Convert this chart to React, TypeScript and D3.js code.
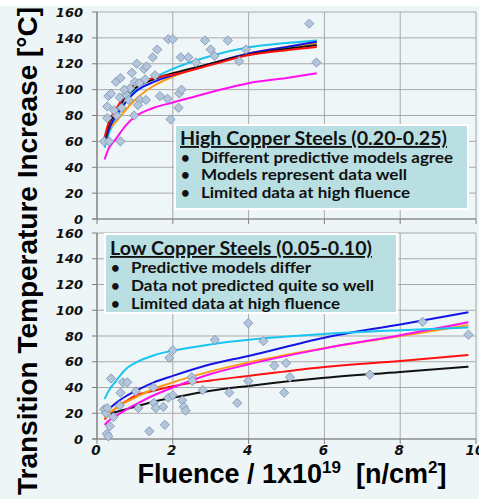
import React from "react";
import * as d3 from "d3";

const W = 479;
const H = 499;

const xTicks = [0, 2, 4, 6, 8, 10];
const yTicks = [0, 20, 40, 60, 80, 100, 120, 140, 160];

// High copper data points [fluence, dT]
const highPoints: [number, number][] = [
  [0.19, 60], [0.32, 60], [0.62, 60], [0.27, 78], [0.27, 87], [0.3, 95], [0.37, 97],
  [0.52, 80], [0.5, 106], [0.62, 109], [0.6, 94], [0.65, 86], [0.77, 96], [0.84, 92],
  [0.92, 113], [0.87, 101], [0.98, 80], [1.0, 106], [1.05, 120], [1.12, 105], [1.13, 92],
  [1.24, 116], [1.31, 118], [1.27, 108], [1.29, 92], [1.08, 88], [1.47, 125], [1.59, 131],
  [1.53, 111], [1.66, 95], [1.88, 139], [2.0, 139], [1.86, 93], [1.94, 77], [2.17, 97],
  [2.23, 100], [2.15, 86], [2.21, 125], [2.41, 125], [2.61, 121], [2.85, 138], [3.0, 131],
  [3.1, 126], [3.45, 138], [3.75, 122], [3.93, 131], [5.6, 151], [5.79, 121], [0.72, 100],
  [0.45, 84],
];

const lowPoints: [number, number][] = [
  [0.19, 23], [0.24, 20], [0.27, 24], [0.26, 4], [0.3, 2], [0.34, 10], [0.37, 47],
  [0.43, 17], [0.62, 36], [0.68, 44], [0.8, 44], [0.6, 26], [1.02, 37], [1.09, 24],
  [1.38, 6], [1.49, 40], [1.5, 28], [1.55, 24], [1.75, 25], [1.79, 11], [1.88, 32],
  [1.91, 63], [2.0, 69], [2.0, 34], [2.25, 30], [2.29, 25], [2.34, 22], [2.5, 48],
  [2.52, 45], [2.79, 38], [3.11, 77], [3.49, 36], [3.7, 28], [3.99, 90], [4.39, 76],
  [4.68, 57], [4.99, 59], [5.09, 48], [4.94, 36], [3.99, 45], [7.2, 50], [8.59, 91],
  [9.8, 81],
];

// Model curves, high copper
const highX = [0.2, 0.3, 0.5, 0.75, 1, 1.5, 2, 3, 4, 5, 5.8];
const highCyan = [55, 65, 77, 90, 100, 109, 116, 126, 132.7, 136, 138];
const highBlue = [58, 68, 80, 90, 98, 106, 111, 120, 128, 133, 137];
const highBlack = [60, 72, 82, 94, 101, 108, 112.6, 120, 127, 131.5, 134.5];
const highRed = [63, 74, 85, 96, 104, 109, 111.5, 119, 126.7, 130.5, 133];
const highOrange = [60, 68, 75, 84, 92, 103, 110, 120, 128, 133, 136];
const highMagenta = [46, 54, 62, 72, 79, 86, 90, 98, 105, 109, 112.6];

// Model curves, low copper
const lowX = [0.2, 0.3, 0.5, 0.75, 1, 1.5, 2, 3, 4, 6, 8, 9.8];
const lowCyan = [31, 37, 45, 54, 59, 65, 68.6, 73.5, 77, 81.5, 84.5, 86.7];
const lowBlue = [21, 23, 28, 33, 37, 44, 49, 58, 64.5, 78.7, 89, 98.4];
const lowOrange = [16, 19.5, 24, 28.5, 32, 39, 44, 52.5, 59.5, 70.5, 80, 88.5];
const lowMagenta = [11, 14, 18, 22.5, 26.5, 34, 40, 50.5, 58, 70.4, 80.5, 90.6];
const lowRed = [15, 19, 24, 29, 33.5, 37.5, 41, 45.5, 49, 56, 60.6, 65.2];
const lowBlack = [18, 19.5, 21, 23, 25, 29, 32, 37.5, 41.2, 47.5, 52, 56.2];

const highTitle = "High Copper Steels (0.20-0.25)";
const highBullets = [
  "Different predictive models agree",
  "Models represent data well",
  "Limited data at high fluence",
];
const highWidths = [267, 252, 206, 209];
const lowTitle = "Low Copper Steels (0.05-0.10)";
const lowBullets = [
  "Predictive models differ",
  "Data not predicted quite so well",
  "Limited data at high fluence",
];
const lowWidths = [262, 180, 243, 209];

const COLORS = {
  cyan: "#18c4f0",
  blue: "#1414e6",
  black: "#111111",
  red: "#ff1010",
  orange: "#ff9a10",
  magenta: "#ff10ee",
};

const x = d3.scaleLinear().domain([0, 10]).range([97, 476]);
const yTop = d3.scaleLinear().domain([0, 160]).range([219, 12]);
const yBot = d3.scaleLinear().domain([0, 160]).range([439, 233]);

function Panel({
  y,
  points,
  curves,
  xs,
  showXLabels,
}: {
  y: d3.ScaleLinear<number, number>;
  points: [number, number][];
  curves: { vals: number[]; color: string }[];
  xs: number[];
  showXLabels: boolean;
}) {
  const [y0, y1] = y.range();
  const line = (vals: number[]) =>
    d3
      .line<number>()
      .x((_, i) => x(xs[i]))
      .y((v) => y(v))
      .curve(d3.curveMonotoneX)(vals) || "";
  const tickFont = "'DejaVu Sans', sans-serif";
  return (
    <g>
      <rect x={x(0)} y={y1} width={x(10) - x(0)} height={y0 - y1} fill="#eff6f8" />
      {yTicks.map((t) => (
        <line key={"h" + t} x1={x(0)} x2={x(10)} y1={y(t)} y2={y(t)} stroke="#a9a9a9" strokeWidth={1} />
      ))}
      {xTicks.map((t) => (
        <line key={"v" + t} x1={x(t)} x2={x(t)} y1={y1} y2={y0} stroke="#a9a9a9" strokeWidth={1} />
      ))}
      <line x1={x(0)} x2={x(0)} y1={y1} y2={y0} stroke="#7f7f7f" strokeWidth={1.2} />
      <line x1={x(0) - 5} x2={x(10)} y1={y0} y2={y0} stroke="#7f7f7f" strokeWidth={1.2} />
      {yTicks.map((t) => (
        <line key={"yt" + t} x1={x(0) - 5} x2={x(0)} y1={y(t)} y2={y(t)} stroke="#7f7f7f" />
      ))}
      {xTicks.map((t) => (
        <line key={"xt" + t} x1={x(t)} x2={x(t)} y1={y0} y2={y0 + 5} stroke="#7f7f7f" />
      ))}
      {yTicks.map((t) => (
        <text
          key={"yl" + t}
          x={83}
          y={y(t)}
          dy="0.36em"
          textAnchor="end"
          fontFamily={tickFont}
          fontWeight="bold"
          fontStyle="italic"
          fontSize={13}
          fill="#111"
        >
          {t}
        </text>
      ))}
      {showXLabels &&
        xTicks.map((t) => (
          <text
            key={"xl" + t}
            x={x(t) - 1}
            y={y0 + 16}
            textAnchor="middle"
            fontFamily={tickFont}
            fontWeight="bold"
            fontStyle="italic"
            fontSize={13.5}
            fill="#111"
          >
            {t}
          </text>
        ))}
      {curves.map((c, i) => (
        <path key={"c" + i} d={line(c.vals)} fill="none" stroke={c.color} strokeWidth={2} />
      ))}
      {points.map((p, i) => {
        const cx = x(p[0]);
        const cy = y(p[1]);
        const r = 4.6;
        return (
          <path
            key={"p" + i}
            d={`M${cx},${cy - r}L${cx + r},${cy}L${cx},${cy + r}L${cx - r},${cy}Z`}
            fill="#b3c6dc"
            stroke="#7f95b3"
            strokeWidth={0.9}
          />
        );
      })}
    </g>
  );
}

function Legend({
  x0,
  y0,
  w,
  h,
  title,
  bullets,
  widths,
  titleBase,
  lineGap,
}: {
  x0: number;
  y0: number;
  w: number;
  h: number;
  title: string;
  bullets: string[];
  widths: number[];
  titleBase: number;
  lineGap: number;
}) {
  const font = "Lato, 'Open Sans', sans-serif";
  return (
    <g>
      <rect x={x0} y={y0} width={w} height={h} fill="#b9dfe2" stroke="#ffffff" strokeWidth={2} />
      <text
        x={x0 + 5}
        y={titleBase}
        fontFamily={font}
        fontSize={18.5}
        fontWeight="bold"
        fill="#111"
        textDecoration="underline"
        textLength={widths[0]}
        lengthAdjust="spacingAndGlyphs"
      >
        {title}
      </text>
      {bullets.map((b, i) => (
        <g key={i}>
          <text x={x0 + 6} y={titleBase + (i + 1) * lineGap} fontFamily={font} fontSize={15} fontWeight="bold" fill="#111">
            •
          </text>
          <text
            x={x0 + 26}
            y={titleBase + (i + 1) * lineGap}
            fontFamily={font}
            fontSize={15.5}
            fontWeight="bold"
            fill="#111"
            textLength={widths[i + 1]}
            lengthAdjust="spacingAndGlyphs"
          >
            {b}
          </text>
        </g>
      ))}
    </g>
  );
}

export default function App() {
  const topCurves = [
    { vals: highMagenta, color: COLORS.magenta },
    { vals: highCyan, color: COLORS.cyan },
    { vals: highOrange, color: COLORS.orange },
    { vals: highBlue, color: COLORS.blue },
    { vals: highBlack, color: COLORS.black },
    { vals: highRed, color: COLORS.red },
  ];
  const botCurves = [
    { vals: lowBlack, color: COLORS.black },
    { vals: lowRed, color: COLORS.red },
    { vals: lowOrange, color: COLORS.orange },
    { vals: lowMagenta, color: COLORS.magenta },
    { vals: lowBlue, color: COLORS.blue },
    { vals: lowCyan, color: COLORS.cyan },
  ];
  return (
    <svg
      width={W}
      height={H}
      style={{ position: "absolute", left: 0, top: 0, display: "block" }}
      fontFamily="'Liberation Sans', Arial, sans-serif"
    >
      <rect x={0} y={0} width={W} height={H} fill="#edf5f7" />
      <rect x={0} y={0} width={W} height={6} fill="#ffffff" />
      <Panel y={yTop} points={highPoints} curves={topCurves} xs={highX} showXLabels={false} />
      <Panel y={yBot} points={lowPoints} curves={botCurves} xs={lowX} showXLabels={true} />
      <Legend x0={175} y0={125} w={293} h={84} title={highTitle} bullets={highBullets} widths={highWidths} titleBase={145} lineGap={17.5} />
      <Legend x0={105} y0={234} w={292} h={79} title={lowTitle} bullets={lowBullets} widths={lowWidths} titleBase={255} lineGap={18} />
      <text
        transform="translate(37,251) rotate(-90)"
        textAnchor="middle"
        fontWeight="bold"
        fontSize={27}
        textLength={488}
        lengthAdjust="spacingAndGlyphs"
        fill="#000"
      >
        Transition Temperature Increase [°C]
      </text>
      <text x={292} y={483} textAnchor="middle" fontWeight="bold" fontSize={27} fill="#000">
        Fluence / 1x10
        <tspan fontSize={17} dy={-10}>19</tspan>
        <tspan dy={10}>{"\u00a0\u00a0"}[n/cm</tspan>
        <tspan fontSize={17} dy={-10}>2</tspan>
        <tspan dy={10}>]</tspan>
      </text>
    </svg>
  );
}
